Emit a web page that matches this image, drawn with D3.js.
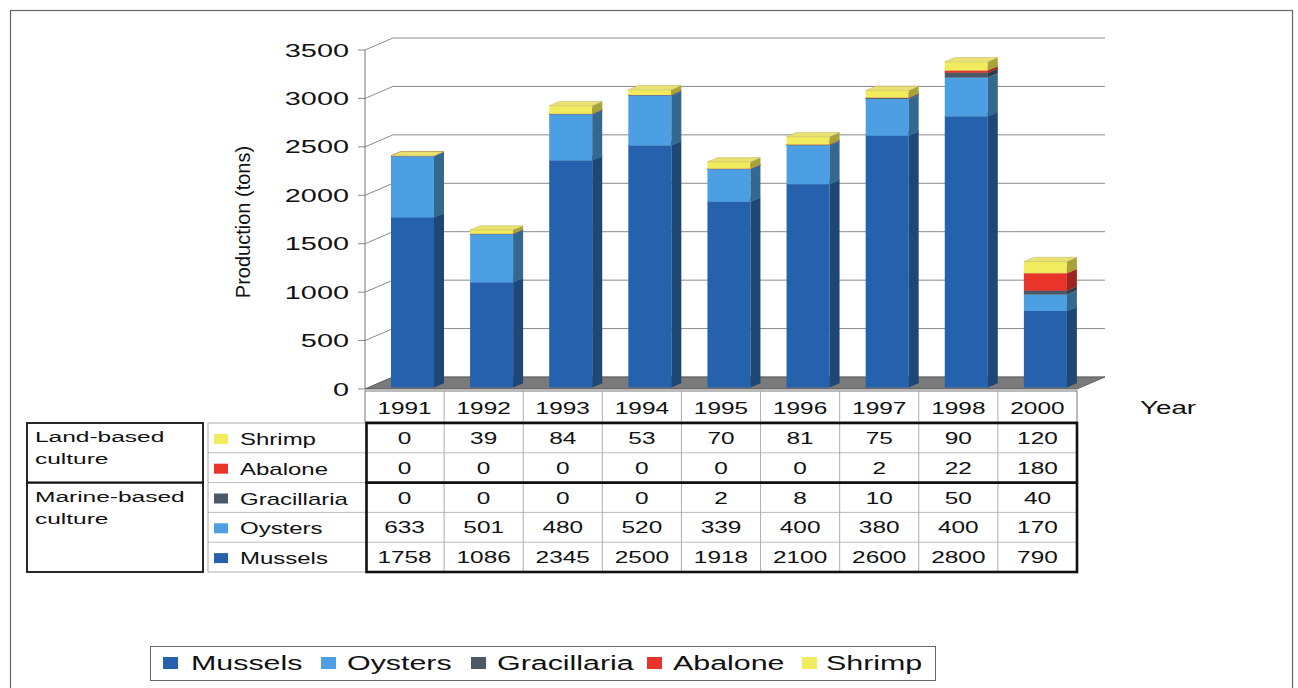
<!DOCTYPE html>
<html>
<head>
<meta charset="utf-8">
<script src="https://cdn.jsdelivr.net/npm/d3@7"></script>
<style>
  html, body { margin: 0; padding: 0; background: #fff; }
  svg { display: block; }
  text { font-family: "Liberation Sans", Arial, sans-serif; fill: #111; }
</style>
</head>
<body>
<svg id="chart" width="1298" height="688"></svg>
<script>
// Aquaculture production by year (tons)
const years = ["1991", "1992", "1993", "1994", "1995", "1996", "1997", "1998", "2000"];
const mussels     = [1758, 1086, 2345, 2500, 1918, 2100, 2600, 2800, 790];
const oysters     = [633, 501, 480, 520, 339, 400, 380, 400, 170];
const gracillaria = [0, 0, 0, 0, 2, 8, 10, 50, 40];
const abalone     = [0, 0, 0, 0, 0, 0, 2, 22, 180];
const shrimp      = [0, 39, 84, 53, 70, 81, 75, 90, 120];
const yTicks = [0, 500, 1000, 1500, 2000, 2500, 3000, 3500];

const seriesNames = ["Mussels", "Oysters", "Gracillaria", "Abalone", "Shrimp"];
const seriesValues = [mussels, oysters, gracillaria, abalone, shrimp];
const tableOrder = ["Shrimp", "Abalone", "Gracillaria", "Oysters", "Mussels"];
const groups = [
  { lines: ["Land-based", "culture"], rows: 2 },
  { lines: ["Marine-based", "culture"], rows: 3 }
];

const palette = {
  Mussels:     { front: "#2561ad", side: "#1e4776", top: "#3d7cc4" },
  Oysters:     { front: "#4c9fe2", side: "#33688f", top: "#80bff0" },
  Gracillaria: { front: "#4b5866", side: "#323c46", top: "#6a7682" },
  Abalone:     { front: "#e8342b", side: "#9e2620", top: "#f0635a" },
  Shrimp:      { front: "#f1eb5e", side: "#a8a23a", top: "#e9e272" }
};

const svg = d3.select("#chart");

// text helper: stretched horizontally to give the wide lettering
function label(parent, x, y, str, size, sx, anchor) {
  return parent.append("text")
    .attr("transform", `translate(${x},${y}) scale(${sx},1)`)
    .attr("font-size", size)
    .attr("text-anchor", anchor || "start")
    .text(str);
}

// outer frame
svg.append("rect").attr("x", 10.5).attr("y", 10.5).attr("width", 1282).attr("height", 700)
  .attr("fill", "none").attr("stroke", "#666").attr("stroke-width", 1.2);

// ---- plot geometry ----
const plotLeft = 365, plotRight = 1077;
const depthX = 28, depthY = 12;          // wall / floor depth
const x = d3.scaleBand().domain(years).range([plotLeft, plotRight]).padding(0);
const y = d3.scaleLinear().domain([0, 3500]).range([389, 50]);

const barW = 43, barDX = 10, barDY = 4.3; // bar face width and bar depth
const barOffX = 26, barOffY = -1.5;       // bar front face placed inside the floor depth

const plot = svg.append("g");

// back-wall gridlines with their diagonal run along the left wall
yTicks.forEach(v => {
  const yy = y(v);
  plot.append("path")
    .attr("d", `M${plotLeft - 7},${yy}L${plotLeft},${yy}L${plotLeft + depthX},${yy - depthY}L${plotRight + depthX},${yy - depthY}`)
    .attr("fill", "none").attr("stroke", "#8a8a8a").attr("stroke-width", 1);
});
// front vertical axis
plot.append("line").attr("x1", plotLeft).attr("x2", plotLeft).attr("y1", y(3500)).attr("y2", y(0))
  .attr("stroke", "#777").attr("stroke-width", 1);

// floor
plot.append("path")
  .attr("d", `M${plotLeft},${y(0)}L${plotLeft + depthX},${y(0) - depthY}L${plotRight + depthX},${y(0) - depthY}L${plotRight},${y(0)}Z`)
  .attr("fill", "#7a7a7a").attr("stroke", "#555").attr("stroke-width", 0.8);

// y tick labels
yTicks.forEach(v => label(plot, 349, y(v) + 6.5, String(v), 17.5, 1.65, "end"));

// y title
plot.append("text")
  .attr("transform", `translate(250,222) rotate(-90)`)
  .attr("text-anchor", "middle")
  .attr("font-size", 20)
  .style("font-family", "'Liberation Sans Narrow', 'Liberation Sans', Arial, sans-serif")
  .text("Production (tons)");

// stacked 3D bars
const rows = years.map((yr, i) => {
  const o = { year: yr };
  seriesNames.forEach((s, k) => o[s] = seriesValues[k][i]);
  return o;
});
const stacked = d3.stack().keys(seriesNames)(rows);

years.forEach((yr, i) => {
  const g = plot.append("g");
  const x0 = x(yr) + barOffX;
  stacked.forEach(layer => {
    const c = palette[layer.key];
    const [b, t] = layer[i];
    const yt = y(t) + barOffY, yb = y(b) + barOffY;
    // front face
    g.append("rect").attr("x", x0).attr("y", yt).attr("width", barW).attr("height", Math.max(0, yb - yt))
      .attr("fill", c.front);
    // side face
    g.append("path")
      .attr("d", `M${x0 + barW},${yt}L${x0 + barW + barDX},${yt - barDY}L${x0 + barW + barDX},${yb - barDY}L${x0 + barW},${yb}Z`)
      .attr("fill", c.side);
    // top face
    g.append("path")
      .attr("d", `M${x0},${yt}L${x0 + barDX},${yt - barDY}L${x0 + barW + barDX},${yt - barDY}L${x0 + barW},${yt}Z`)
      .attr("fill", c.top).attr("stroke", d3.color(c.top).darker(0.6)).attr("stroke-width", 0.5);
  });
});

// ---- data table ----
const table = svg.append("g");
const headTop = 391, headBot = 422;
const bodyTop = 423, rowH = 29.8;
const bodyBot = bodyTop + rowH * 5;

// year header row
table.append("rect").attr("x", plotLeft).attr("y", headTop).attr("width", plotRight - plotLeft).attr("height", headBot - headTop)
  .attr("fill", "#fff").attr("stroke", "#555").attr("stroke-width", 0.8);
years.forEach((yr, i) => {
  if (i > 0) table.append("line").attr("x1", x(yr)).attr("x2", x(yr)).attr("y1", headTop).attr("y2", bodyBot)
    .attr("stroke", "#999").attr("stroke-width", 0.8);
  label(table, x(yr) + x.bandwidth() / 2, headTop + 23, yr, 16.5, 1.48, "middle");
});

// body grid lines
for (let r = 1; r < 5; r++) {
  table.append("line").attr("x1", 208).attr("x2", plotRight).attr("y1", bodyTop + r * rowH).attr("y2", bodyTop + r * rowH)
    .attr("stroke", "#aaa").attr("stroke-width", 0.8);
}

// value cells
tableOrder.forEach((name, r) => {
  const vals = seriesValues[seriesNames.indexOf(name)];
  const cy = bodyTop + r * rowH + rowH / 2 + 6;
  years.forEach((yr, i) => label(table, x(yr) + x.bandwidth() / 2, cy, String(vals[i]), 16.5, 1.48, "middle"));
});

// series label column with colour keys
table.append("rect").attr("x", 208).attr("y", bodyTop).attr("width", plotRight - 208).attr("height", bodyBot - bodyTop)
  .attr("fill", "none").attr("stroke", "#999").attr("stroke-width", 0.8);
tableOrder.forEach((name, r) => {
  const cy = bodyTop + r * rowH + rowH / 2;
  table.append("rect").attr("x", 214).attr("y", cy - 4).attr("width", 14).attr("height", 10)
    .attr("fill", palette[name].front);
  label(table, 240, cy + 7, name, 16, 1.5, "start");
});

// heavy borders around the value block and between culture groups
table.append("rect").attr("x", plotLeft + 1.5).attr("y", bodyTop).attr("width", plotRight - plotLeft - 1.5).attr("height", bodyBot - bodyTop)
  .attr("fill", "none").attr("stroke", "#111").attr("stroke-width", 2.6);
table.append("line").attr("x1", plotLeft).attr("x2", plotRight).attr("y1", bodyTop + 2 * rowH).attr("y2", bodyTop + 2 * rowH)
  .attr("stroke", "#111").attr("stroke-width", 2.6);

// culture group boxes
let gy = bodyTop;
groups.forEach(gp => {
  const h = gp.rows * rowH;
  table.append("rect").attr("x", 27).attr("y", gy).attr("width", 176).attr("height", h)
    .attr("fill", "none").attr("stroke", "#111").attr("stroke-width", 1.8);
  gp.lines.forEach((ln, k) => label(table, 35, gy + 19 + k * 22, ln, 15.5, 1.58, "start"));
  gy += h;
});

// axis category title
label(svg, 1140, 414, "Year", 18.5, 1.5, "start");

// ---- legend ----
const legend = svg.append("g");
legend.append("rect").attr("x", 150.5).attr("y", 646.5).attr("width", 785).attr("height", 34)
  .attr("fill", "#fff").attr("stroke", "#666").attr("stroke-width", 1);
const legendSq = [163, 321, 471, 647, 802];
const legendTx = [191, 347, 497, 673, 826];
seriesNames.forEach((name, k) => {
  legend.append("rect").attr("x", legendSq[k]).attr("y", 657).attr("width", 15).attr("height", 12)
    .attr("fill", palette[name].front);
  label(legend, legendTx[k], 670, name, 20, 1.52, "start");
});
</script>
</body>
</html>
